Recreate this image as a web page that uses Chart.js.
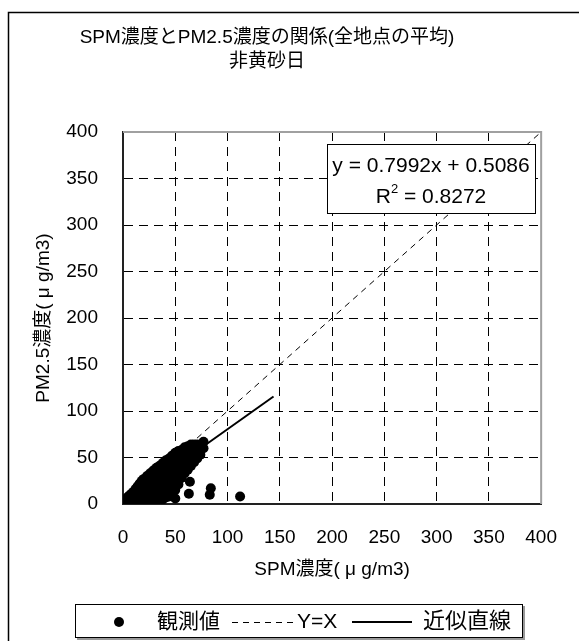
<!DOCTYPE html>
<html>
<head>
<meta charset="utf-8">
<script src="https://cdn.jsdelivr.net/npm/chart.js@4.4.1/dist/chart.umd.min.js"></script>
<style>
    body { margin: 0; background: #fff; }
    canvas { display: block; }
</style>
</head>
<body>
<canvas id="chart" width="579" height="641"></canvas>
<script>
// データ
const titleLines = ['SPM濃度とPM2.5濃度の関係(全地点の平均)', '非黄砂日'];
const xAxisTitle = 'SPM濃度( μ g/m3)';
const yAxisTitle = 'PM2.5濃度( μ g/m3)';
const axisTicks = [0, 50, 100, 150, 200, 250, 300, 350, 400];
const legendLabels = ['観測値', 'Y=X', '近似直線'];
const equationText = 'y = 0.7992x + 0.5086';
const r2Text = ' = 0.8272';

// 観測値 [SPM, PM2.5]
const observed = [
    [4,4],[4,7],[6,5],[6,9],[8,4],[8,7],[8,11],[10,5],[10,9],[10,13],
    [12,4],[12,8],[12,12],[12,16],[14,6],[14,10],[14,14],[14,19],
    [16,4],[16,8],[16,13],[16,17],[16,22],[18,6],[18,11],[18,16],[18,21],[18,25],
    [20,4],[20,9],[20,14],[20,19],[20,24],[20,27],[23,5],[23,10],[23,15],[23,20],[23,25],[23,30],
    [26,4],[26,9],[26,14],[26,19],[26,24],[26,29],[26,33],
    [29,6],[29,11],[29,16],[29,21],[29,26],[29,31],[29,36],
    [32,4],[32,9],[32,14],[32,19],[32,24],[32,29],[32,34],[32,39],
    [35,6],[35,11],[35,16],[35,21],[35,26],[35,31],[35,36],[35,41],
    [38,5],[38,10],[38,15],[38,20],[38,25],[38,30],[38,35],[38,40],[38,44],
    [41,7],[41,12],[41,17],[41,22],[41,27],[41,32],[41,37],[41,42],[41,47],
    [44,8],[44,13],[44,18],[44,23],[44,28],[44,33],[44,38],[44,43],[44,49],
    [47,11],[47,17],[47,22],[47,27],[47,32],[47,37],[47,42],[47,47],[47,52],
    [50,15],[50,21],[50,26],[50,31],[50,36],[50,41],[50,46],[50,51],[50,55],
    [53,21],[53,27],[53,32],[53,37],[53,42],[53,47],[53,52],[53,57],
    [56,28],[56,33],[56,38],[56,43],[56,48],[56,53],[56,58],
    [59,33],[59,38],[59,43],[59,48],[59,53],[59,58],[59,61],
    [62,37],[62,42],[62,47],[62,52],[62,57],[62,62],
    [65,41],[65,46],[65,51],[65,56],[65,61],[65,64],
    [68,45],[68,50],[68,55],[68,60],[68,64],
    [71,49],[71,54],[71,59],[71,64],
    [74,53],[74,58],[74,63],
    [77,60],[77,67],
    [50,6],[63,11],[64,24],[83,10],[84,17],[112,8]
];
// Y=X と 近似直線の端点
const identityLine = [[0, 0], [400, 400]];
const fitLine = [[4, 3.7], [144, 115.6]];

const FONT = '"Liberation Sans", "Noto Sans CJK JP", sans-serif';
const toXY = arr => arr.map(p => ({ x: p[0], y: p[1] }));

// 外枠・タイトル・数式ボックス・凡例
const decorPlugin = {
    id: 'decor',
    beforeDraw(chart) {
        const ctx = chart.ctx;
        ctx.save();
        ctx.fillStyle = '#fff';
        ctx.fillRect(0, 0, chart.width, chart.height);
        ctx.strokeStyle = '#000';
        ctx.lineWidth = 1.5;
        ctx.beginPath();
        ctx.moveTo(8.5, chart.height);
        ctx.lineTo(8.5, 12.5);
        ctx.lineTo(chart.width, 12.5);
        ctx.stroke();

        ctx.fillStyle = '#000';
        ctx.font = '19px ' + FONT;
        ctx.textAlign = 'center';
        ctx.textBaseline = 'middle';
        ctx.fillText(titleLines[0], 267, 38);
        ctx.fillText(titleLines[1], 267, 62);
        ctx.restore();
    },
    beforeDatasetsDraw(chart) {
        const ctx = chart.ctx;
        const a = chart.chartArea;
        ctx.save();
        ctx.strokeStyle = '#a0a0a0';
        ctx.lineWidth = 2;
        ctx.beginPath();
        ctx.moveTo(a.left, a.top);
        ctx.lineTo(a.right, a.top);
        ctx.lineTo(a.right, a.bottom);
        ctx.stroke();
        ctx.restore();
    },
    afterDraw(chart) {
        const ctx = chart.ctx;
        ctx.save();

        // 数式ボックス
        ctx.fillStyle = '#fff';
        ctx.fillRect(327, 144, 208, 69);
        ctx.strokeStyle = '#000';
        ctx.lineWidth = 1;
        ctx.strokeRect(327.5, 144.5, 208, 69);
        ctx.fillStyle = '#000';
        ctx.font = '21px ' + FONT;
        ctx.textBaseline = 'middle';
        ctx.textAlign = 'center';
        ctx.fillText(equationText, 431, 166);
        ctx.textAlign = 'left';
        const wR = ctx.measureText('R').width;
        const wRest = ctx.measureText(r2Text).width;
        ctx.font = '13px ' + FONT;
        const w2 = ctx.measureText('2').width;
        let x = 431 - (wR + w2 + wRest) / 2;
        ctx.font = '21px ' + FONT;
        ctx.fillText('R', x, 197);
        ctx.font = '13px ' + FONT;
        ctx.fillText('2', x + wR, 189);
        ctx.font = '21px ' + FONT;
        ctx.fillText(r2Text, x + wR + w2, 197);

        // 凡例
        const ly = 622;
        ctx.fillStyle = '#999';
        ctx.fillRect(77, 606, 448, 34);
        ctx.fillStyle = '#fff';
        ctx.fillRect(75, 604, 448, 34);
        ctx.strokeStyle = '#000';
        ctx.strokeRect(75.5, 604.5, 447, 33);
        ctx.fillStyle = '#000';
        ctx.beginPath();
        ctx.arc(119, ly, 5, 0, Math.PI * 2);
        ctx.fill();
        ctx.font = '21px ' + FONT;
        ctx.fillText(legendLabels[0], 157, ly);
        ctx.lineWidth = 1;
        ctx.setLineDash([6, 5]);
        ctx.beginPath();
        ctx.moveTo(232, ly + 0.5);
        ctx.lineTo(296, ly + 0.5);
        ctx.stroke();
        ctx.setLineDash([]);
        ctx.fillText(legendLabels[1], 297, ly);
        ctx.lineWidth = 2;
        ctx.beginPath();
        ctx.moveTo(352, ly);
        ctx.lineTo(412, ly);
        ctx.stroke();
        ctx.font = '22px ' + FONT;
        ctx.fillText(legendLabels[2], 423, ly);
        ctx.restore();
    }
};

const gridColor = ctx => {
    const v = ctx.tick && ctx.tick.value;
    return (v === 0 || v === 400) ? 'rgba(0,0,0,0)' : '#000';
};

new Chart(document.getElementById('chart'), {
    type: 'scatter',
    data: {
        datasets: [
            {
                label: legendLabels[0],
                data: toXY(observed),
                pointRadius: 5,
                pointBackgroundColor: '#000',
                pointBorderWidth: 0,
                showLine: false
            },
            {
                label: legendLabels[1],
                data: toXY(identityLine),
                showLine: true,
                borderColor: '#000',
                borderWidth: 1,
                borderDash: [6, 5],
                pointRadius: 0
            },
            {
                label: legendLabels[2],
                data: toXY(fitLine),
                showLine: true,
                borderColor: '#000',
                borderWidth: 2,
                pointRadius: 0
            }
        ]
    },
    options: {
        responsive: false,
        animation: false,
        devicePixelRatio: 1,
        layout: { padding: { left: 0, right: 27, top: 132, bottom: 51 } },
        plugins: {
            legend: { display: false },
            tooltip: { enabled: false }
        },
        scales: {
            x: {
                type: 'linear',
                min: 0,
                max: 400,
                afterBuildTicks: scale => { scale.ticks = axisTicks.map(v => ({ value: v })); },
                afterFit: scale => { scale.height = 86; },
                ticks: { color: '#000', font: { family: FONT, size: 19 }, padding: 22, maxRotation: 0 },
                grid: { color: gridColor, lineWidth: 1, drawTicks: false },
                border: { color: '#222', width: 2, dash: [9, 6] },
                title: {
                    display: true, text: xAxisTitle, color: '#000',
                    font: { family: FONT, size: 19 }, padding: { top: 0, bottom: 9 }
                }
            },
            y: {
                type: 'linear',
                min: 0,
                max: 400,
                afterBuildTicks: scale => { scale.ticks = axisTicks.map(v => ({ value: v })); },
                afterFit: scale => { scale.width = 123; },
                ticks: { color: '#000', font: { family: FONT, size: 19 }, padding: 25 },
                grid: { color: gridColor, lineWidth: 1, drawTicks: false },
                border: { color: '#222', width: 2, dash: [9, 6] },
                title: {
                    display: true, text: yAxisTitle, color: '#000',
                    font: { family: FONT, size: 19 }, padding: { top: 32, bottom: 0 }
                }
            }
        }
    },
    plugins: [decorPlugin]
});
</script>
</body>
</html>
